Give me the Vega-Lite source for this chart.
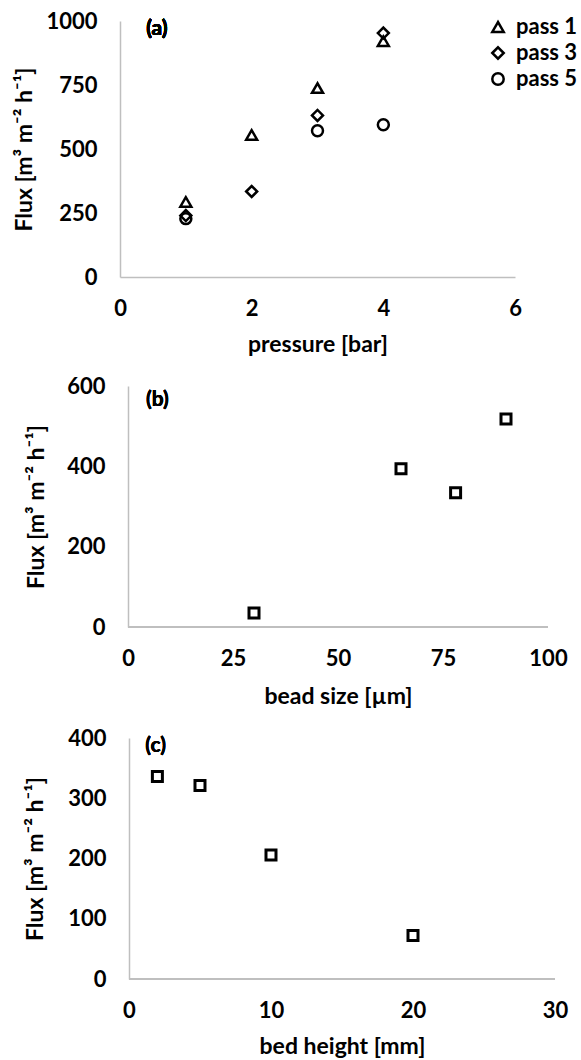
{
  "$schema": "https://vega.github.io/schema/vega-lite/v6.json",
  "background": "white",
  "padding": {"left": 13, "top": 10, "right": 0, "bottom": 0},
  "spacing": 19,
  "config": {
    "view": {"stroke": null},
    "font": "Lato",
    "axis": {
      "labelFont": "Lato",
      "labelFontWeight": "bold",
      "labelFontSize": 22,
      "labelColor": "black",
      "titleFont": "Lato",
      "titleFontWeight": "bold",
      "titleFontSize": 23,
      "titleColor": "black",
      "domainColor": "#bfbfbf",
      "domainWidth": 1.5,
      "ticks": false,
      "grid": false,
      "labelPadding": 21,
      "labelFlush": false,
      "labelOverlap": false,
      "format": "d"
    },
    "axisY": {"labelPadding": 23},
    "point": {"filled": false, "color": "black", "strokeWidth": 2.5, "opacity": 1}
  },
  "vconcat": [
    {
      "width": 395,
      "height": 256,
      "data": {"values": [
        {"pressure": 1, "flux": 293, "series": "pass 1"},
        {"pressure": 2, "flux": 555, "series": "pass 1"},
        {"pressure": 3, "flux": 738, "series": "pass 1"},
        {"pressure": 4, "flux": 921, "series": "pass 1"},
        {"pressure": 1, "flux": 240, "series": "pass 3"},
        {"pressure": 2, "flux": 334, "series": "pass 3"},
        {"pressure": 3, "flux": 631, "series": "pass 3"},
        {"pressure": 4, "flux": 953, "series": "pass 3"},
        {"pressure": 1, "flux": 228, "series": "pass 5"},
        {"pressure": 3, "flux": 571, "series": "pass 5"},
        {"pressure": 4, "flux": 595, "series": "pass 5"}
      ]},
      "layer": [
        {
          "mark": {"type": "point", "size": 120},
          "encoding": {
            "x": {"field": "pressure", "type": "quantitative",
                  "scale": {"domain": [0, 6], "nice": false},
                  "axis": {"values": [0, 2, 4, 6], "title": "pressure [bar]", "titlePadding": 14}},
            "y": {"field": "flux", "type": "quantitative",
                  "scale": {"domain": [0, 1000], "nice": false},
                  "axis": {"values": [0, 250, 500, 750, 1000], "title": "Flux [m³ m⁻² h⁻¹]", "titlePadding": 9}},
            "shape": {"field": "series", "type": "nominal",
                      "scale": {"domain": ["pass 1", "pass 3", "pass 5"], "range": ["triangle-up", "diamond", "circle"]},
                      "legend": {"title": null, "orient": "none", "legendX": 367, "legendY": -5,
                                 "padding": 0, "rowPadding": 4, "labelOffset": 7,
                                 "symbolSize": 130, "symbolStrokeWidth": 2.5, "symbolStrokeColor": "black",
                                 "symbolFillColor": "transparent",
                                 "labelFont": "Lato", "labelFontWeight": "bold", "labelFontSize": 22, "labelColor": "black"}}
          }
        },
        {
          "mark": {"type": "text", "font": "Lato", "fontWeight": "bold", "fontSize": 21, "color": "black", "align": "center", "baseline": "middle"},
          "encoding": {"x": {"datum": 0.56}, "y": {"datum": 968}, "text": {"value": "(a)"}}
        }
      ]
    },
    {
      "width": 428,
      "height": 241,
      "data": {"values": [
        {"bead": 30, "flux": 35},
        {"bead": 65, "flux": 394},
        {"bead": 78, "flux": 334},
        {"bead": 90, "flux": 518}
      ]},
      "layer": [
        {
          "mark": {"type": "rule", "color": "#bfbfbf", "strokeWidth": 1.5},
          "encoding": {"x": {"datum": 0}, "x2": {"datum": 100}, "y": {"datum": 0}}
        },
        {
          "mark": {"type": "point", "shape": "square", "size": 100, "strokeWidth": 3},
          "encoding": {
            "x": {"field": "bead", "type": "quantitative",
                  "scale": {"domain": [-1.905, 100], "nice": false},
                  "axis": {"values": [0, 25, 50, 75, 100], "domain": false, "title": "bead size [µm]", "titlePadding": 16, "titleX": 218}},
            "y": {"field": "flux", "type": "quantitative",
                  "scale": {"domain": [0, 600], "nice": false},
                  "axis": {"values": [0, 200, 400, 600], "offset": -8, "title": "Flux [m³ m⁻² h⁻¹]", "titlePadding": 18}}
          }
        },
        {
          "mark": {"type": "text", "font": "Lato", "fontWeight": "bold", "fontSize": 21, "color": "black", "align": "center", "baseline": "middle"},
          "encoding": {"x": {"datum": 7}, "y": {"datum": 566}, "text": {"value": "(b)"}}
        }
      ]
    },
    {
      "width": 435,
      "height": 241,
      "data": {"values": [
        {"bed": 2, "flux": 336},
        {"bed": 5, "flux": 321},
        {"bed": 10, "flux": 206},
        {"bed": 20, "flux": 72}
      ]},
      "layer": [
        {
          "mark": {"type": "rule", "color": "#bfbfbf", "strokeWidth": 1.5},
          "encoding": {"x": {"datum": 0}, "x2": {"datum": 30}, "y": {"datum": 0}}
        },
        {
          "mark": {"type": "point", "shape": "square", "size": 100, "strokeWidth": 3},
          "encoding": {
            "x": {"field": "bed", "type": "quantitative",
                  "scale": {"domain": [-0.633, 30], "nice": false},
                  "axis": {"values": [0, 10, 20, 30], "domain": false, "title": "bed height [mm]", "titlePadding": 14, "titleX": 222}},
            "y": {"field": "flux", "type": "quantitative",
                  "scale": {"domain": [0, 400], "nice": false},
                  "axis": {"values": [0, 100, 200, 300, 400], "offset": -9, "title": "Flux [m³ m⁻² h⁻¹]", "titlePadding": 20}}
          }
        },
        {
          "mark": {"type": "text", "font": "Lato", "fontWeight": "bold", "fontSize": 21, "color": "black", "align": "center", "baseline": "middle"},
          "encoding": {"x": {"datum": 1.88}, "y": {"datum": 386}, "text": {"value": "(c)"}}
        }
      ]
    }
  ]
}
